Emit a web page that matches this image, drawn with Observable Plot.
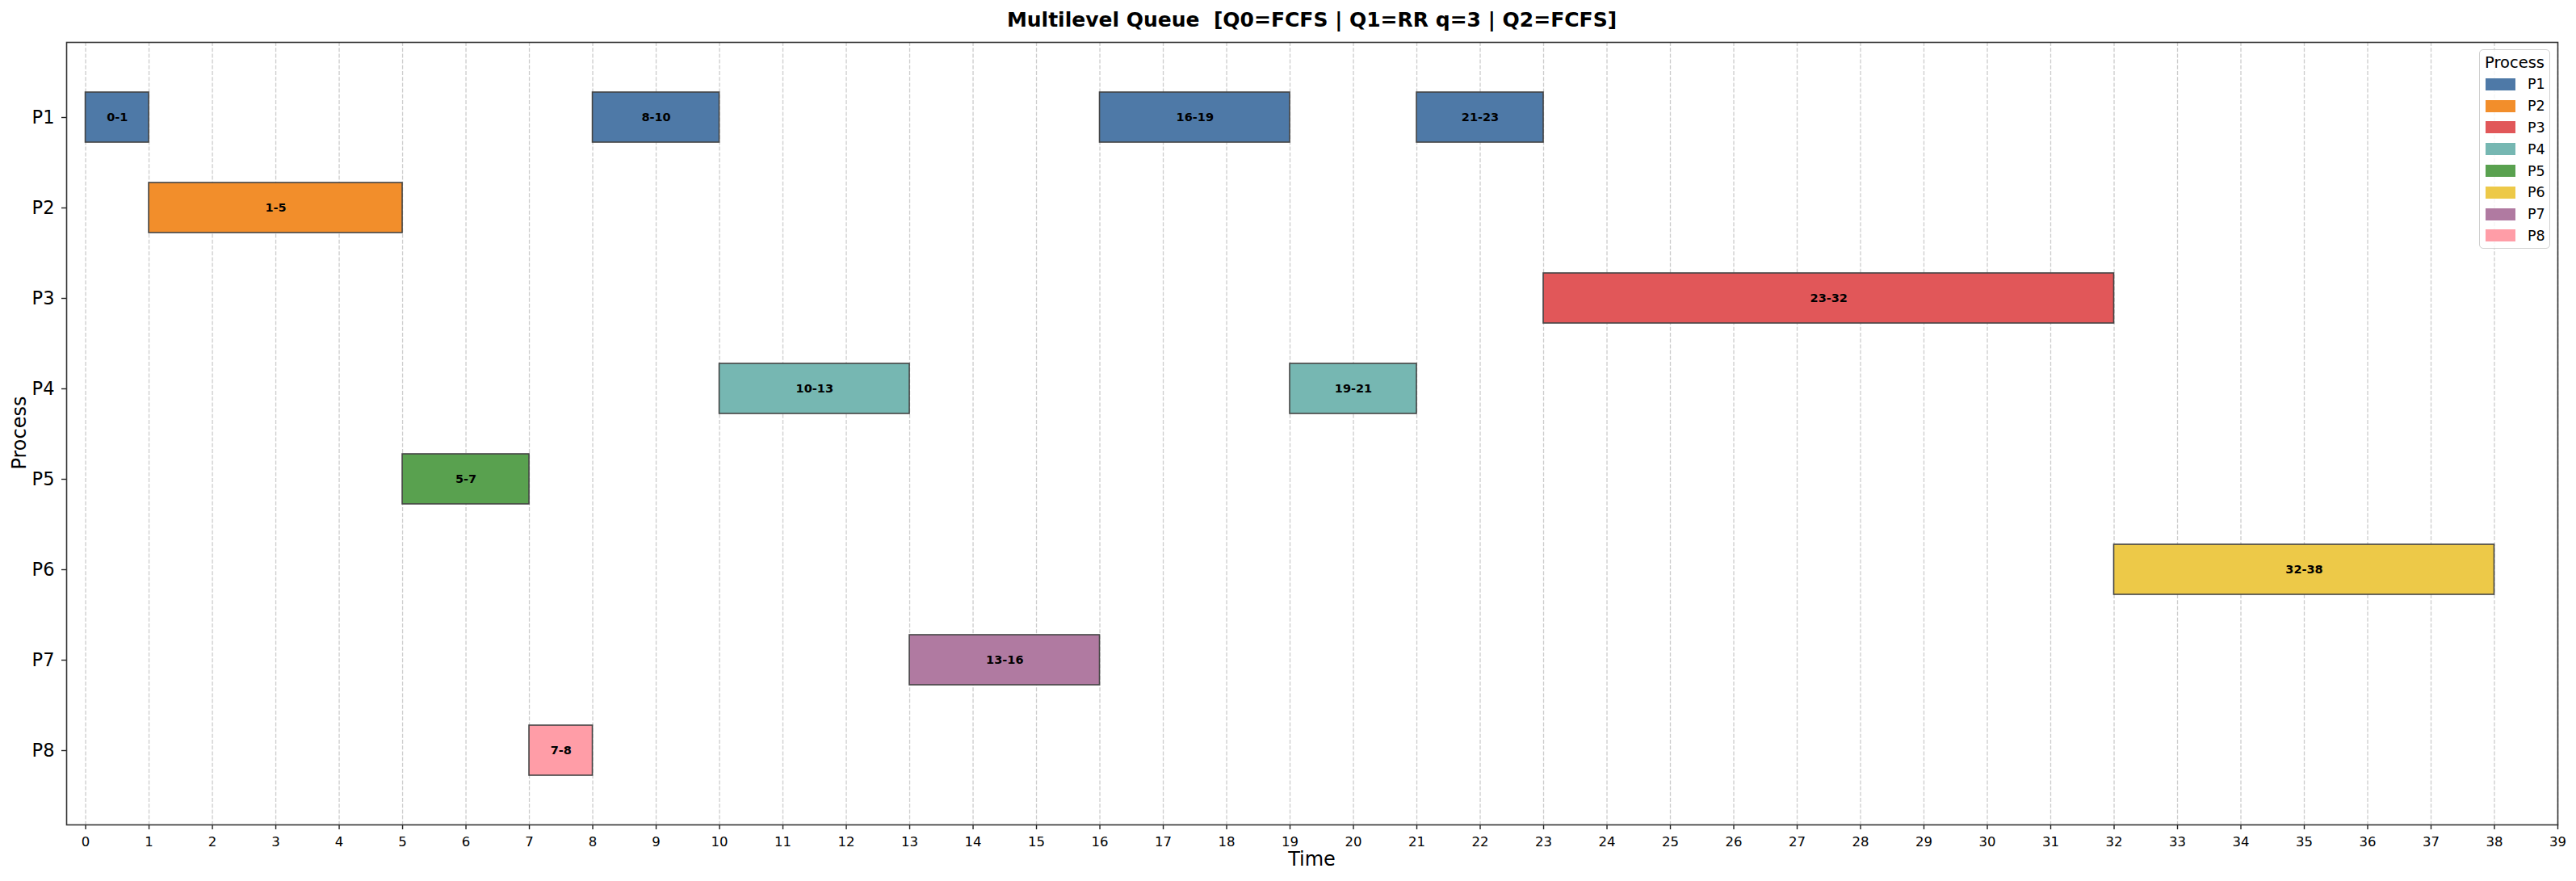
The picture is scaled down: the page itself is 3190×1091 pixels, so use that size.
<!DOCTYPE html>
<html>
<head>
<meta charset="utf-8">
<script src="https://cdn.jsdelivr.net/npm/d3@7"></script>
<script src="https://cdn.jsdelivr.net/npm/@observablehq/plot@0.6"></script>
<style>
  body { margin: 0; background: #fff; font-family: "DejaVu Sans", sans-serif; }
  #wrap { position: relative; width: 3190px; height: 1091px; overflow: hidden; }
  #title { height: 40px; line-height: 49px; box-sizing: border-box; padding-left: 82px; padding-right: 23px;
           text-align: center; font-weight: bold; font-size: 25px; white-space: pre; color: #000; }
  .axlabel { position: absolute; font-size: 24px; color: #000; white-space: nowrap; }
  #legend { position: absolute; left: 3070px; top: 61px; width: 88px; height: 247px; box-sizing: border-box;
            border: 1.5px solid #d0d0d0; border-radius: 5px; background: rgba(255,255,255,0.8); }
  .lgtitle { position: absolute; left: 0; width: 100%; text-align: center; font-size: 19.5px; }
  .sw { position: absolute; left: 7px; width: 37px; height: 15px; }
  .lt { position: absolute; left: 59px; font-size: 17.5px; line-height: 20px; }
</style>
</head>
<body>
<div id="wrap">
  <div id="title"></div>
  <div id="chart"></div>
  <div class="axlabel" id="xlabel"></div>
  <div class="axlabel" id="ylabel"></div>
  <div id="legend"></div>
</div>
<script>
// ---- data ----
const titleText = "Multilevel Queue  [Q0=FCFS | Q1=RR q=3 | Q2=FCFS]";
const xLabel = "Time";
const yLabel = "Process";
const legendTitle = "Process";
const processes = ["P1", "P2", "P3", "P4", "P5", "P6", "P7", "P8"];
const colors = ["#4e79a7", "#f28e2b", "#e15759", "#76b7b2", "#59a14f", "#edc948", "#b07aa1", "#ff9da7"];
const segProcess = ["P1", "P2", "P5", "P8", "P1", "P4", "P7", "P1", "P4", "P1", "P3", "P6"];
const segStart   = [0, 1, 5, 7, 8, 10, 13, 16, 19, 21, 23, 32];
const segEnd     = [1, 5, 7, 8, 10, 13, 16, 19, 21, 23, 32, 38];
const xTicks = d3.range(0, 40);
const xDomain = [-0.3, 39];

const segments = segProcess.map((p, i) => ({process: p, start: segStart[i], end: segEnd[i]}));

// ---- layout ----
const W = 3190, H = 1051;
const mTop = 12, mBottom = 70, mLeft = 82, mRight = 23;

document.getElementById("title").textContent = titleText;

const chart = Plot.plot({
  width: W,
  height: H,
  marginTop: mTop,
  marginBottom: mBottom,
  marginLeft: mLeft,
  marginRight: mRight,
  style: {fontFamily: "DejaVu Sans, sans-serif", color: "#222", background: "#fff", overflow: "visible"},
  x: {domain: xDomain, label: null},
  y: {domain: processes, paddingInner: 0.45, paddingOuter: 0.525, label: null},
  color: {domain: processes, range: colors},
  marks: [
    Plot.ruleX(xTicks, {stroke: "#cccccc", strokeWidth: 1.3, strokeDasharray: "5,2.2"}),
    Plot.barX(segments, {x1: "start", x2: "end", y: "process", fill: "process", stroke: "#444", strokeWidth: 1.6}),
    Plot.text(segments, {
      x: d => (d.start + d.end) / 2, y: "process",
      text: d => `${d.start}-${d.end}`,
      fontWeight: "bold", fontSize: 14.5, fill: "#000"
    }),
    Plot.axisX({ticks: xTicks, tickFormat: d => String(d), tickSize: 6, tickPadding: 9, fontSize: 16.5, label: null, strokeWidth: 1.4, fill: "#000"}),
    Plot.axisY({tickSize: 6, tickPadding: 9, fontSize: 22.5, label: null, strokeWidth: 1.4, fill: "#000"}),
    Plot.frame({stroke: "#333", strokeWidth: 1.6})
  ]
});
document.getElementById("chart").appendChild(chart);

// axis labels
const xl = document.getElementById("xlabel");
xl.textContent = xLabel;
xl.style.left = ((mLeft + (W - mRight)) / 2) + "px";
xl.style.top = "1064px";
xl.style.transform = "translate(-50%, -50%)";
const yl = document.getElementById("ylabel");
yl.textContent = yLabel;
yl.style.left = "24px";
yl.style.top = "536px";
yl.style.transform = "translate(-50%, -50%) rotate(-90deg)";

// legend
const lg = document.getElementById("legend");
const lt = document.createElement("div");
lt.className = "lgtitle";
lt.style.top = "4px";
lt.textContent = legendTitle;
lg.appendChild(lt);
processes.forEach((p, i) => {
  const cy = 42.3 + i * 26.8;
  const sw = document.createElement("div");
  sw.className = "sw";
  sw.style.top = (cy - 7.5) + "px";
  sw.style.background = colors[i];
  lg.appendChild(sw);
  const t = document.createElement("div");
  t.className = "lt";
  t.style.top = (cy - 10) + "px";
  t.textContent = p;
  lg.appendChild(t);
});
</script>
</body>
</html>
